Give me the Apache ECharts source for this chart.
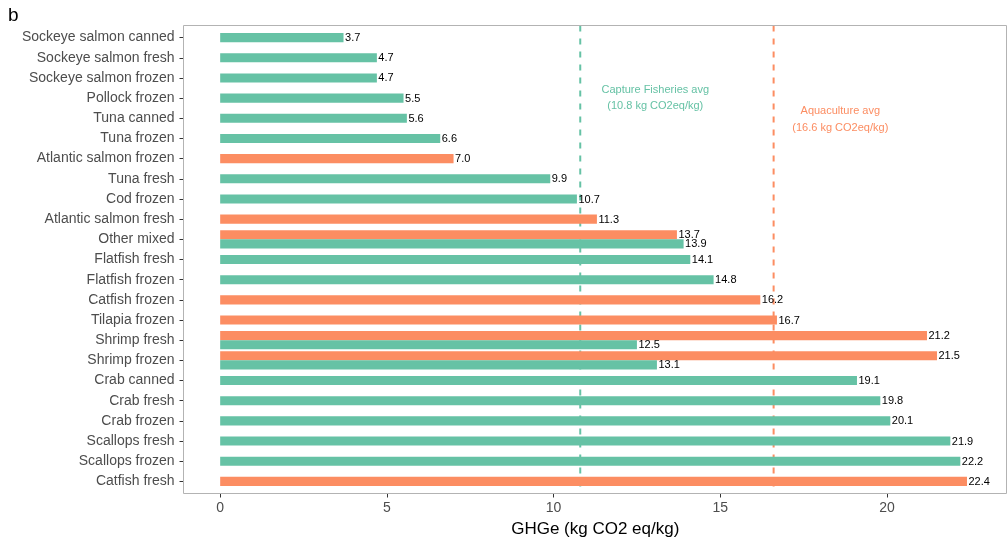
<!DOCTYPE html>
<html>
<head>
<meta charset="utf-8">
<script src="https://cdn.jsdelivr.net/npm/echarts@6/dist/echarts.min.js"></script>
<style>
  html, body { margin: 0; padding: 0; background: #ffffff; }
  #chart { width: 1008px; height: 541px; }
</style>
</head>
<body>
<div id="chart"></div>
<script>
// Seafood products, top to bottom
const categories = [
  'Sockeye salmon canned', 'Sockeye salmon fresh', 'Sockeye salmon frozen',
  'Pollock frozen', 'Tuna canned', 'Tuna frozen', 'Atlantic salmon frozen',
  'Tuna fresh', 'Cod frozen', 'Atlantic salmon fresh', 'Other mixed',
  'Flatfish fresh', 'Flatfish frozen', 'Catfish frozen', 'Tilapia frozen',
  'Shrimp fresh', 'Shrimp frozen', 'Crab canned', 'Crab fresh', 'Crab frozen',
  'Scallops fresh', 'Scallops frozen', 'Catfish fresh'
];
// GHGe (kg CO2 eq/kg) by production method; null = not produced that way
const captureValues = [
  3.7, 4.7, 4.7, 5.5, 5.6, 6.6, null, 9.9, 10.7, null, 13.9,
  14.1, 14.8, null, null, 12.5, 13.1, 19.1, 19.8, 20.1, 21.9, 22.2, null
];
const aquacultureValues = [
  null, null, null, null, null, null, 7.0, null, null, 11.3, 13.7,
  null, null, 16.2, 16.7, 21.2, 21.5, null, null, null, null, null, 22.4
];
// Group averages (vertical reference lines)
const avgNames = ['Capture Fisheries avg', 'Aquaculture avg'];
const avgValues = [10.8, 16.6];
// Annotation anchors: [x value, row position]
const avgLabelAnchors = [[13.05, 3.0], [18.6, 4.05]];
const xTicks = [0, 5, 10, 15, 20];

const CAPTURE = '#66c2a5';
const AQUA = '#fc8d62';
const FONT = "'Liberation Sans', Arial, Helvetica, sans-serif";

// Build bar items: [value, categoryIndex, slot, group]
// slot -1 = upper half (dodged), +1 = lower half (dodged), 0 = centred
const barItems = [];
categories.forEach((c, i) => {
  const cv = captureValues[i], av = aquacultureValues[i];
  const both = cv != null && av != null;
  if (av != null) barItems.push([av, i, both ? -1 : 0, 1]);
  if (cv != null) barItems.push([cv, i, both ? 1 : 0, 0]);
});

const avgItems = avgValues.map((v, k) => [v, 0, k]);
const annItems = avgLabelAnchors.map((a, k) => [a[0], a[1], k]);

const chart = echarts.init(document.getElementById('chart'), null, { renderer: 'canvas' });

const option = {
  backgroundColor: '#ffffff',
  animation: false,
  textStyle: { fontFamily: FONT },
  grid: {
    left: 183.5, right: 1, top: 27.5, bottom: 49.5,
    containLabel: false, outerBoundsMode: 'none'
  },
  xAxis: {
    type: 'value',
    min: -1.1, max: 23.6,
    offset: 2,
    splitLine: { show: false },
    axisLine: { show: false, onZero: false },
    axisTick: { show: true, length: 4, customValues: xTicks, lineStyle: { color: '#333333', width: 1 } },
    axisLabel: { customValues: xTicks, color: '#4d4d4d', fontSize: 14, margin: 8, fontFamily: FONT },
    name: 'GHGe (kg CO2 eq/kg)',
    nameLocation: 'middle',
    nameGap: 25,
    nameTextStyle: { color: '#000000', fontSize: 17, fontFamily: FONT }
  },
  yAxis: {
    type: 'category',
    position: 'left',
    data: categories,
    inverse: true,
    boundaryGap: true,
    splitLine: { show: false },
    axisLine: { show: false, onZero: false },
    axisTick: { show: true, alignWithLabel: true, length: 4, lineStyle: { color: '#333333', width: 1 } },
    axisLabel: { color: '#4d4d4d', fontSize: 14, margin: 9, fontFamily: FONT, interval: 0 }
  },
  graphic: [
    {
      type: 'text', left: 8, top: 6,
      style: { text: 'b', fill: '#000000', font: '19px ' + FONT }
    },
    {
      type: 'rect', z: 100, silent: true,
      shape: { x: 183.5, y: 25.5, width: 823, height: 468 },
      style: { fill: 'none', stroke: '#b3b3b3', lineWidth: 1 }
    }
  ],
  series: [
    {
      // dashed average lines, drawn beneath the bars
      type: 'custom',
      z: 1,
      clip: false,
      data: avgItems,
      encode: { x: 0, y: 1 },
      renderItem: function (params, api) {
        const x = api.coord([api.value(0), 0])[0];
        const cs = params.coordSys;
        const color = api.value(2) === 0 ? CAPTURE : AQUA;
        return {
          type: 'line',
          shape: { x1: x, y1: cs.y - 2, x2: x, y2: cs.y + cs.height + 2 },
          style: { stroke: color, lineWidth: 2, lineDash: [6, 7] }
        };
      }
    },
    {
      // average annotations
      type: 'custom',
      z: 3,
      clip: false,
      data: annItems,
      encode: { x: 0, y: 1 },
      renderItem: function (params, api) {
        const k = api.value(2);
        const p0 = api.coord([api.value(0), 0]);
        const p1 = api.coord([api.value(0), 1]);
        const y = p0[1] + (p1[1] - p0[1]) * api.value(1);
        const color = k === 0 ? CAPTURE : AQUA;
        return {
          type: 'text',
          style: {
            text: avgNames[k] + '\n(' + avgValues[k].toFixed(1) + ' kg CO2eq/kg)',
            x: p0[0], y: y,
            align: 'center', verticalAlign: 'middle',
            fill: color, font: '11px ' + FONT, lineHeight: 16.5
          }
        };
      }
    },
    {
      // bars with value labels
      type: 'custom',
      z: 2,
      clip: false,
      data: barItems,
      encode: { x: 0, y: 1 },
      renderItem: function (params, api) {
        const v = api.value(0), cat = api.value(1), slot = api.value(2), grp = api.value(3);
        const start = api.coord([0, cat]);
        const end = api.coord([v, cat]);
        const next = api.coord([0, cat + 1]);
        const band = Math.abs(next[1] - start[1]);
        const h = band * 0.45;
        const yc = start[1] + slot * h / 2;
        return {
          type: 'group',
          children: [
            {
              type: 'rect',
              shape: { x: start[0], y: yc - h / 2, width: end[0] - start[0], height: h },
              style: { fill: grp === 0 ? CAPTURE : AQUA }
            },
            {
              type: 'text',
              style: {
                text: v.toFixed(1),
                x: end[0] + 1.5, y: yc + 0.5,
                align: 'left', verticalAlign: 'middle',
                fill: '#000000', font: '11px ' + FONT
              }
            }
          ]
        };
      }
    }
  ]
};

chart.setOption(option);
</script>
</body>
</html>
